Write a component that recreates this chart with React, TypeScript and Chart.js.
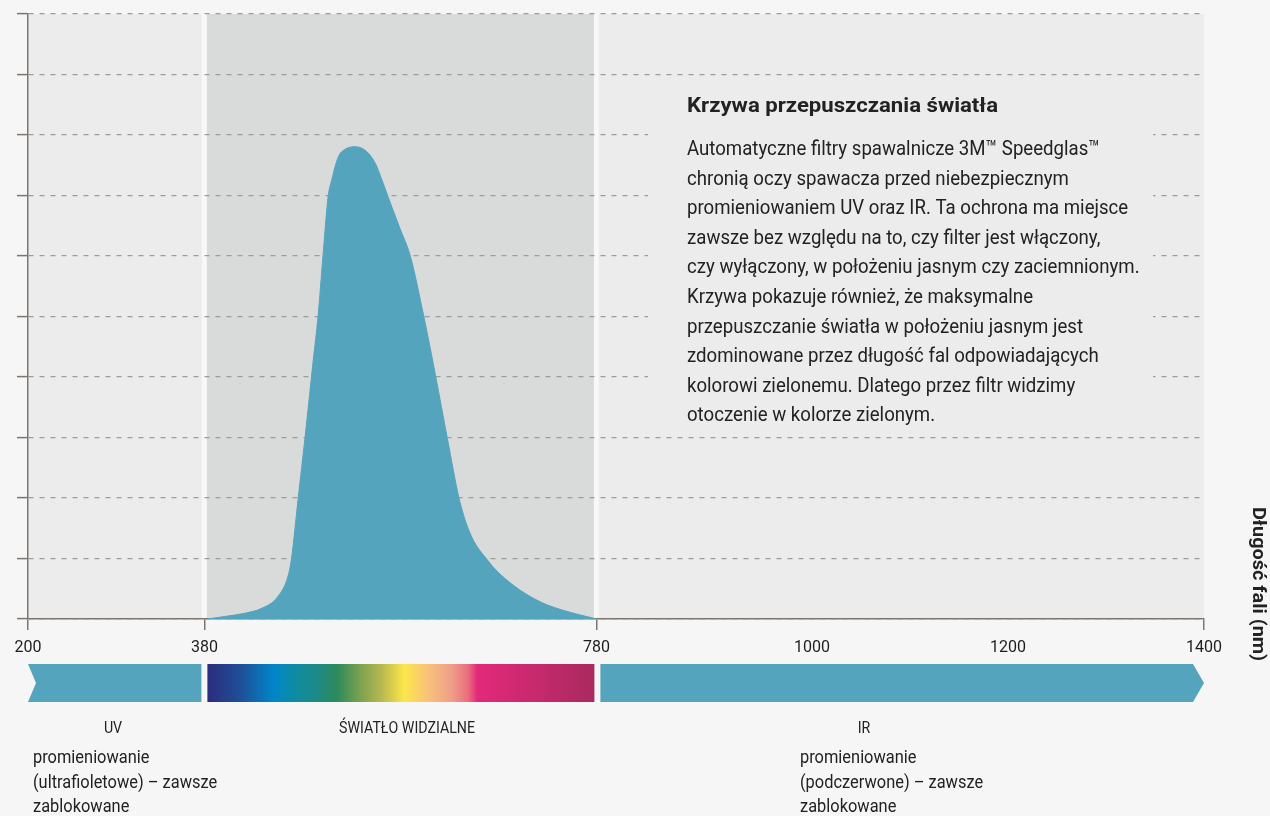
import React, { useEffect, useRef } from 'react';
import { Chart, registerables } from 'chart.js';

Chart.register(...registerables);

// ---- data ----
const wavelengthNm = [383, 400.5, 421, 438.5, 454.9, 465.4, 468.9, 475.7, 482.6, 491.1, 495.9, 501, 506.2, 509.9, 516.7, 523.6, 533.8, 545.8, 554.4, 561.2, 568, 579, 590.3, 603.9, 612.8, 627.9, 639.8, 643.6, 646.7, 653.8, 660, 667.2, 677.4, 694.9, 708.2, 728.7, 745.1, 762.6, 777.9, 780];
const transmission = [0, 0.041, 0.094, 0.177, 0.369, 0.711, 1.003, 1.995, 2.987, 4.281, 4.992, 6.0, 6.975, 7.256, 7.641, 7.764, 7.807, 7.724, 7.532, 7.256, 6.953, 6.479, 5.989, 5.0, 4.281, 2.987, 1.995, 1.769, 1.603, 1.322, 1.157, 1.008, 0.81, 0.562, 0.413, 0.24, 0.149, 0.07, 0.01, 0];
const xTickValues = [200, 380, 780, 1000, 1200, 1400];
const markedTicks = [200, 380, 780, 1400];
const uvRange = [200, 380];
const visibleRange = [380, 780];
const irRange = [780, 1400];
const spectrumStops = [0, 0.086, 0.172, 0.23, 0.276, 0.336, 0.397, 0.448, 0.509, 0.569, 0.629, 0.672, 0.698, 1];
const spectrumColors = ['#2b2c7f', '#1f4f98', '#0086c9', '#108c9f', '#1b8a8c', '#2e8a5b', '#7ea24f', '#b5b850', '#fde64b', '#f8c27a', '#efa088', '#e9717f', '#e3297a', '#a92a5f'];
const boxTitle = 'Krzywa przepuszczania światła';
const boxLines = [
  'Automatyczne filtry spawalnicze 3M™ Speedglas™',
  'chronią oczy spawacza przed niebezpiecznym',
  'promieniowaniem UV oraz IR. Ta ochrona ma miejsce',
  'zawsze bez względu na to, czy filter jest włączony,',
  'czy wyłączony, w położeniu jasnym czy zaciemnionym.',
  'Krzywa pokazuje również, że maksymalne',
  'przepuszczanie światła w położeniu jasnym jest',
  'zdominowane przez długość fal odpowiadających',
  'kolorowi zielonemu. Dlatego przez filtr widzimy',
  'otoczenie w kolorze zielonym.',
];
const uvLabel = 'UV';
const visibleLabel = 'ŚWIATŁO WIDZIALNE';
const irLabel = 'IR';
const uvDesc = ['promieniowanie', '(ultrafioletowe) – zawsze', 'zablokowane'];
const irDesc = ['promieniowanie', '(podczerwone) – zawsze', 'zablokowane'];
const axisTitle = 'Długość fali (nm)';

// ---- styles ----
const FAM = "Roboto, 'Liberation Sans', sans-serif";
const PAGE = '#f6f6f6';
const PLOT_LIGHT = '#ececec';
const PLOT_DARK = '#d9dbda';
const STRIPE = '#f8f8f8';
const TEAL = '#55a4bd';
const AXIS = '#7d7670';
const GRID = '#9c9c9c';
const TEXT = '#222222';

function txt(ctx: CanvasRenderingContext2D, s: string, x: number, y: number, size: number, bold: boolean, align: CanvasTextAlign, sx: number) {
  ctx.save();
  ctx.font = `${bold ? 'bold ' : ''}${size}px ${FAM}`;
  ctx.fillStyle = TEXT;
  ctx.textAlign = align;
  ctx.textBaseline = 'alphabetic';
  ctx.translate(x, y);
  ctx.scale(sx, 1);
  ctx.fillText(s, 0, 0);
  ctx.restore();
}

function factors(ctx: CanvasRenderingContext2D) {
  ctx.save();
  ctx.font = `21px ${FAM}`;
  const r = 413 / ctx.measureText(boxLines[0]).width;
  ctx.font = `bold 20px ${FAM}`;
  const b = 311 / ctx.measureText(boxTitle).width;
  ctx.restore();
  const clamp = (v: number) => Math.max(0.6, Math.min(1.4, v));
  return { r: clamp(r), b: clamp(b) };
}

const decor = {
  id: 'decor',
  beforeDraw(chart: any) {
    const { ctx, chartArea: a, scales } = chart;
    const x = scales.x;
    const f = factors(ctx);
    ctx.save();
    ctx.fillStyle = PAGE;
    ctx.fillRect(0, 0, chart.width, chart.height);
    ctx.fillStyle = PLOT_LIGHT;
    ctx.fillRect(a.left, a.top, a.right - a.left, a.bottom - a.top);
    const v0 = x.getPixelForValue(visibleRange[0]);
    const v1 = x.getPixelForValue(visibleRange[1]);
    ctx.fillStyle = PLOT_DARK;
    ctx.fillRect(v0, a.top, v1 - v0, a.bottom - a.top);
    ctx.fillStyle = STRIPE;
    ctx.fillRect(v0 - 2.5, a.top, 5, a.bottom - a.top);
    ctx.fillRect(v1 - 2.5, a.top, 5, a.bottom - a.top);

    // bottom range bars
    const yTop = 664, yBot = 702, yMid = (yTop + yBot) / 2;
    const u0 = x.getPixelForValue(uvRange[0]);
    const u1 = x.getPixelForValue(uvRange[1]) - 3;
    ctx.fillStyle = TEAL;
    ctx.beginPath();
    ctx.moveTo(u0, yTop); ctx.lineTo(u1, yTop); ctx.lineTo(u1, yBot); ctx.lineTo(u0, yBot); ctx.lineTo(u0 + 8, yMid);
    ctx.closePath(); ctx.fill();

    const s0 = v0 + 3, s1 = v1 - 2;
    const g = ctx.createLinearGradient(s0, 0, s1, 0);
    spectrumStops.forEach((t, i) => g.addColorStop(t, spectrumColors[i]));
    ctx.fillStyle = g;
    ctx.fillRect(s0, yTop, s1 - s0, yBot - yTop);

    const i0 = x.getPixelForValue(irRange[0]) + 4;
    const i1 = x.getPixelForValue(irRange[1]);
    ctx.fillStyle = TEAL;
    ctx.beginPath();
    ctx.moveTo(i0, yTop); ctx.lineTo(i1 - 11, yTop); ctx.lineTo(i1, yMid); ctx.lineTo(i1 - 11, yBot); ctx.lineTo(i0, yBot);
    ctx.closePath(); ctx.fill();

    // labels under bars
    txt(ctx, uvLabel, 113, 733, 16, false, 'center', f.r);
    txt(ctx, visibleLabel, 407, 733, 16, false, 'center', f.r);
    txt(ctx, irLabel, 864, 733, 16, false, 'center', f.r);
    uvDesc.forEach((s, i) => txt(ctx, s, 33, 763 + i * 24.5, 18.5, false, 'left', f.r));
    irDesc.forEach((s, i) => txt(ctx, s, 800, 763 + i * 24.5, 18.5, false, 'left', f.r));

    // vertical axis title
    ctx.save();
    ctx.font = `bold 18px ${FAM}`;
    ctx.fillStyle = TEXT;
    ctx.textAlign = 'center';
    ctx.textBaseline = 'alphabetic';
    ctx.translate(1252.5, 584);
    ctx.rotate(Math.PI / 2);
    ctx.scale(f.b, 1);
    ctx.fillText(axisTitle, 0, 0);
    ctx.restore();

    ctx.restore();
  },
  beforeDatasetsDraw(chart: any) {
    const { ctx } = chart;
    const f = factors(ctx);
    ctx.save();
    ctx.fillStyle = PLOT_LIGHT;
    ctx.fillRect(648, 92, 505, 333);
    txt(ctx, boxTitle, 687, 112, 20, true, 'left', f.b);
    boxLines.forEach((s, i) => txt(ctx, s, 687, 155 + i * 29.6, 21, false, 'left', f.r));
    ctx.restore();
  },
};

export default function App() {
  const ref = useRef<HTMLCanvasElement>(null);
  useEffect(() => {
    const canvas = ref.current as HTMLCanvasElement;
    const chart = new Chart(canvas, {
      type: 'line',
      data: {
        datasets: [
          {
            data: wavelengthNm.map((w, i) => ({ x: w, y: transmission[i] })),
            fill: 'origin',
            backgroundColor: TEAL,
            borderColor: TEAL,
            borderWidth: 1,
            pointRadius: 0,
            tension: 0.4,
            cubicInterpolationMode: 'monotone',
          } as any,
        ],
      },
      options: {
        responsive: false,
        animation: false,
        events: [],
        layout: { padding: { left: 0, top: 14, right: 66, bottom: 157 } },
        plugins: { legend: { display: false }, tooltip: { enabled: false } },
        scales: {
          x: {
            type: 'linear',
            min: 200,
            max: 1400,
            afterBuildTicks: (s: any) => {
              s.ticks = xTickValues.map((v) => ({ value: v }));
            },
            afterFit: (s: any) => {
              s.height = 40;
            },
            grid: {
              drawOnChartArea: false,
              drawTicks: true,
              tickLength: 11,
              lineWidth: 1.5,
              color: (c: any) => (c.tick && markedTicks.includes(c.tick.value) ? AXIS : 'rgba(0,0,0,0)'),
            },
            border: { display: true, color: AXIS, width: 1.5 },
            ticks: {
              autoSkip: false,
              maxRotation: 0,
              padding: 8,
              color: '#1e1e1e',
              font: { family: FAM, size: 16 },
              callback: (v: any) => String(v),
            },
          },
          y: {
            type: 'linear',
            min: 0,
            max: 10,
            afterFit: (s: any) => {
              s.width = 28;
            },
            ticks: { stepSize: 1, display: false },
            grid: { color: GRID, lineWidth: 1.2, tickLength: 11, tickColor: AXIS, tickWidth: 1.5, tickBorderDash: [] },
            border: { display: true, color: AXIS, width: 1.5, dash: [5, 6] },
          },
        },
      } as any,
      plugins: [decor as any],
    });
    return () => chart.destroy();
  }, []);
  return (
    <div style={{ position: 'fixed', left: 0, top: 0, width: 1270, height: 816, background: PAGE }}>
      <canvas ref={ref} width={1270} height={816} style={{ display: 'block', width: 1270, height: 816 }} />
    </div>
  );
}
